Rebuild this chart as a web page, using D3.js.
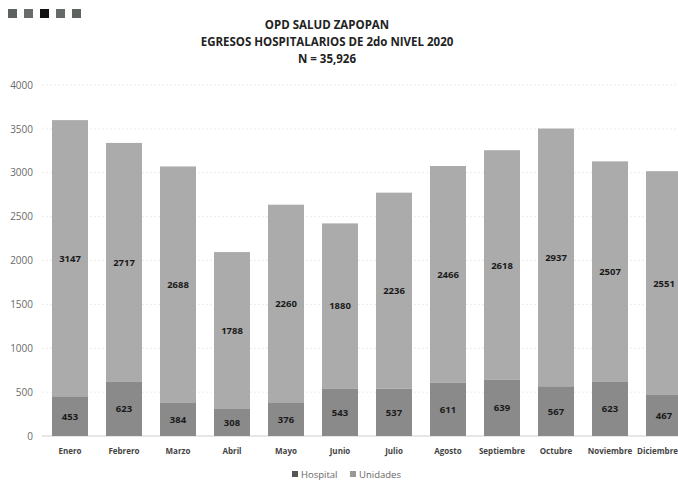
<!DOCTYPE html>
<html>
<head>
<meta charset="utf-8">
<script src="https://cdn.jsdelivr.net/npm/d3@7"></script>
<style>
  body { margin: 0; background: #fff; }
  svg { display: block; font-family: "Open Sans", "Liberation Sans", sans-serif; }
</style>
</head>
<body>
<svg width="678" height="484"></svg>
<script>
// datos
var meses = ["Enero", "Febrero", "Marzo", "Abril", "Mayo", "Junio", "Julio", "Agosto", "Septiembre", "Octubre", "Noviembre", "Diciembre"];
var hospital = [453, 623, 384, 308, 376, 543, 537, 611, 639, 567, 623, 467];
var unidades = [3147, 2717, 2688, 1788, 2260, 1880, 2236, 2466, 2618, 2937, 2507, 2551];
var ticksY = [0, 500, 1000, 1500, 2000, 2500, 3000, 3500, 4000];
var titulos = ["OPD SALUD ZAPOPAN", "EGRESOS HOSPITALARIOS DE 2do NIVEL 2020", "N = 35,926"];
var series = ["Hospital", "Unidades"];

var colores = { Hospital: "#8a8a8a", Unidades: "#ababab" };

var svg = d3.select("svg");

// cuadritos de arriba a la izquierda
var cuadros = ["#5e625f", "#686b69", "#111", "#666a67", "#5f6360"];
svg.selectAll("rect.cuadro")
  .data(cuadros)
  .enter().append("rect")
  .attr("class", "cuadro")
  .attr("x", function(d, i) { return 8 + i * 16; })
  .attr("y", 9)
  .attr("width", 9)
  .attr("height", 9)
  .attr("fill", function(d) { return d; });

// titulo
svg.selectAll("text.titulo")
  .data(titulos)
  .enter().append("text")
  .attr("class", "titulo")
  .attr("x", 327)
  .attr("y", function(d, i) { return 29 + i * 17; })
  .attr("text-anchor", "middle")
  .attr("font-size", 11.5)
  .attr("font-weight", "bold")
  .attr("fill", "#222")
  .text(function(d) { return d; });

var datos = meses.map(function(m, i) {
  return { mes: m, Hospital: hospital[i], Unidades: unidades[i] };
});
var pila = d3.stack().keys(series)(datos);

var x = d3.scaleBand()
  .domain(meses)
  .range([43, 691])
  .paddingInner(1 / 3)
  .paddingOuter(1 / 6);

var y = d3.scaleLinear()
  .domain([0, 4000])
  .range([436, 85]);

// lineas de la cuadricula
svg.append("g")
  .selectAll("line")
  .data(ticksY)
  .enter().append("line")
  .attr("x1", 42)
  .attr("x2", 678)
  .attr("y1", function(d) { return y(d); })
  .attr("y2", function(d) { return y(d); })
  .attr("stroke", function(d) { return d == 0 ? "#cfcfcf" : "#ececec"; })
  .attr("stroke-dasharray", function(d) { return d == 0 ? null : "2,2"; });

// eje y
var ejeY = svg.append("g")
  .attr("transform", "translate(33,0)")
  .call(d3.axisLeft(y).tickValues(ticksY).tickFormat(d3.format("d")).tickSize(0).tickPadding(0));
ejeY.select(".domain").remove();
ejeY.selectAll("text")
  .attr("font-size", 10)
  .attr("fill", "#6a6a6a")
  .attr("font-family", "Open Sans, sans-serif");

// barras
var grupos = svg.selectAll("g.serie")
  .data(pila)
  .enter().append("g")
  .attr("class", "serie")
  .attr("fill", function(d) { return colores[d.key]; });

grupos.selectAll("rect")
  .data(function(d) { return d; })
  .enter().append("rect")
  .attr("x", function(d) { return x(d.data.mes); })
  .attr("y", function(d) { return y(d[1]); })
  .attr("width", x.bandwidth())
  .attr("height", function(d) { return y(d[0]) - y(d[1]); });

// etiquetas de valores
grupos.selectAll("text")
  .data(function(d) { return d; })
  .enter().append("text")
  .attr("x", function(d) { return x(d.data.mes) + x.bandwidth() / 2; })
  .attr("y", function(d) { return (y(d[0]) + y(d[1])) / 2 + 3.5; })
  .attr("text-anchor", "middle")
  .attr("font-size", 9.5)
  .attr("font-weight", "bold")
  .attr("fill", "#1a1a1a")
  .text(function(d) { return d[1] - d[0]; });

// eje x
var ejeX = svg.append("g")
  .attr("transform", "translate(0,436)")
  .call(d3.axisBottom(x).tickSize(0).tickPadding(12));
ejeX.select(".domain").remove();
ejeX.selectAll("text")
  .attr("font-size", 8)
  .attr("font-weight", "bold")
  .attr("fill", "#444")
  .attr("font-family", "Open Sans, sans-serif");
// la ultima etiqueta queda pegada al borde
ejeX.selectAll("text")
  .filter(function(d) { return d == "Diciembre"; })
  .attr("text-anchor", "end")
  .attr("x", 678 - (x("Diciembre") + x.bandwidth() / 2));

// leyenda
var leyenda = svg.append("g");
var posLeyenda = [292, 350];
series.forEach(function(s, i) {
  leyenda.append("rect")
    .attr("x", posLeyenda[i])
    .attr("y", 471)
    .attr("width", 6)
    .attr("height", 6)
    .attr("fill", s == "Hospital" ? "#555" : "#999");
  leyenda.append("text")
    .attr("x", posLeyenda[i] + 9)
    .attr("y", 477.5)
    .attr("font-size", 9.5)
    .attr("fill", "#666")
    .text(s);
});
</script>
</body>
</html>
